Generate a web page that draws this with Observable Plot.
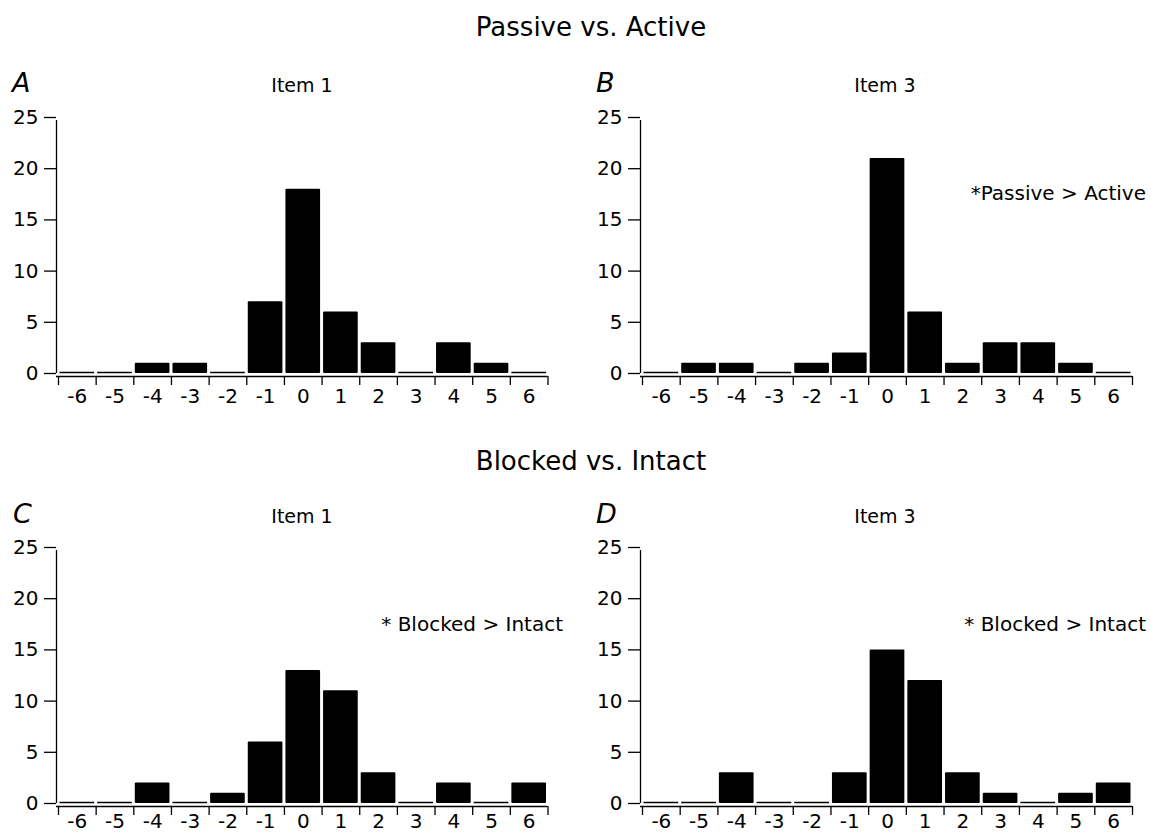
<!DOCTYPE html>
<html>
<head>
<meta charset="utf-8">
<script src="https://cdn.jsdelivr.net/npm/d3@7"></script>
<script src="https://cdn.jsdelivr.net/npm/@observablehq/plot@0.6"></script>
<style>
  html, body { margin: 0; padding: 0; background: #fff; }
  #root { position: relative; width: 1151px; height: 836px; overflow: hidden; font-family: "DejaVu Sans", sans-serif; }
  .panel { position: absolute; }
  #labels { position: absolute; left: 0; top: 0; pointer-events: none; }
  #labels text { font-family: "DejaVu Sans", sans-serif; fill: #000; }
</style>
</head>
<body>
<div id="root">
  <div class="panel" id="pA" style="left:0px;top:60px"></div>
  <div class="panel" id="pB" style="left:576px;top:60px"></div>
  <div class="panel" id="pC" style="left:0px;top:490px"></div>
  <div class="panel" id="pD" style="left:576px;top:490px"></div>
  <svg id="labels" width="1151" height="836">
    <text x="591" y="36" text-anchor="middle" font-size="26">Passive vs. Active</text>
    <text x="591" y="470" text-anchor="middle" font-size="26">Blocked vs. Intact</text>
    <text x="12" y="92" font-size="27" font-style="italic">A</text>
    <text x="596" y="92" font-size="27" font-style="italic">B</text>
    <text x="13" y="523" font-size="27" font-style="italic">C</text>
    <text x="596" y="523" font-size="27" font-style="italic">D</text>
    <text x="302" y="92" text-anchor="middle" font-size="19">Item 1</text>
    <text x="885" y="92" text-anchor="middle" font-size="19">Item 3</text>
    <text x="302" y="523" text-anchor="middle" font-size="19">Item 1</text>
    <text x="885" y="523" text-anchor="middle" font-size="19">Item 3</text>
    <text x="1146" y="200" text-anchor="end" font-size="20">*Passive &gt; Active</text>
    <text x="563" y="631" text-anchor="end" font-size="20">* Blocked &gt; Intact</text>
    <text x="1146" y="631" text-anchor="end" font-size="20">* Blocked &gt; Intact</text>
  </svg>
</div>
<script>
// Difference score categories (x-axis)
const categories = [-6, -5, -4, -3, -2, -1, 0, 1, 2, 3, 4, 5, 6];
// y-axis tick labels
const yTicks = [0, 5, 10, 15, 20, 25];
// Counts per category
const passiveActiveItem1 = [0, 0, 1, 1, 0, 7, 18, 6, 3, 0, 3, 1, 0];
const passiveActiveItem3 = [0, 1, 1, 0, 1, 2, 21, 6, 1, 3, 3, 1, 0];
const blockedIntactItem1 = [0, 0, 2, 0, 1, 6, 13, 11, 3, 0, 2, 0, 2];
const blockedIntactItem3 = [0, 0, 3, 0, 0, 3, 15, 12, 3, 1, 0, 1, 2];

const FONT = "DejaVu Sans, sans-serif";

function panel(values, opts) {
  const data = categories.map((k, i) => ({k, v: values[i]}));
  const zeros = data.filter(d => d.v === 0);
  const bounds = categories.map(k => k - 0.5).concat([categories[categories.length - 1] + 0.5]);
  const lo = bounds[0], hi = bounds[bounds.length - 1];
  return Plot.plot({
    width: 575,
    height: opts.height,
    marginLeft: opts.marginLeft,
    marginRight: opts.marginRight,
    marginTop: opts.marginTop,
    marginBottom: opts.marginBottom,
    style: {fontFamily: FONT, fontSize: "20px", background: "transparent", overflow: "visible"},
    x: {domain: [lo, hi], label: null},
    y: {domain: [0, 25], label: null},
    marks: [
      Plot.rectY(data.filter(d => d.v > 0), {
        x1: d => d.k - 0.5, x2: d => d.k + 0.5, y: "v",
        fill: "#000", insetLeft: 1.5, insetRight: 1.5, rx: 1
      }),
      Plot.ruleY(zeros, {
        x1: d => d.k - 0.5, x2: d => d.k + 0.5, y: 0,
        stroke: "#000", strokeWidth: 1.6, insetLeft: 1.5, insetRight: 1.5, dy: -1
      }),
      // y axis line
      Plot.ruleX([lo], {y1: 0, y2: 25, dx: -2, insetBottom: -3, stroke: "#000", strokeWidth: 1.3}),
      // x axis line
      Plot.ruleY([0], {dy: 3, insetLeft: -2, stroke: "#000", strokeWidth: 1.3}),
      Plot.axisY({ticks: yTicks, tickSize: 12, tickPadding: 6, dx: -2, fontSize: 20,
        tickFormat: d => String(d), strokeWidth: 1.3, label: null}),
      Plot.axisX({ticks: bounds, tickSize: 9, dy: 3, tickFormat: () => "", strokeWidth: 1.3, label: null}),
      Plot.axisX({ticks: categories, tickSize: 0, tickPadding: opts.labelPad, fontSize: 20,
        tickFormat: d => String(d), label: null})
    ]
  });
}

const topRow = {height: 360, marginTop: 57, marginBottom: 47, labelPad: 15};
const botRow = {height: 346, marginTop: 57, marginBottom: 33, labelPad: 10};
document.getElementById("pA").append(panel(passiveActiveItem1, {...topRow, marginLeft: 58, marginRight: 27.5}));
document.getElementById("pB").append(panel(passiveActiveItem3, {...topRow, marginLeft: 66, marginRight: 19}));
document.getElementById("pC").append(panel(blockedIntactItem1, {...botRow, marginLeft: 58, marginRight: 27.5}));
document.getElementById("pD").append(panel(blockedIntactItem3, {...botRow, marginLeft: 66, marginRight: 19}));
</script>
</body>
</html>
